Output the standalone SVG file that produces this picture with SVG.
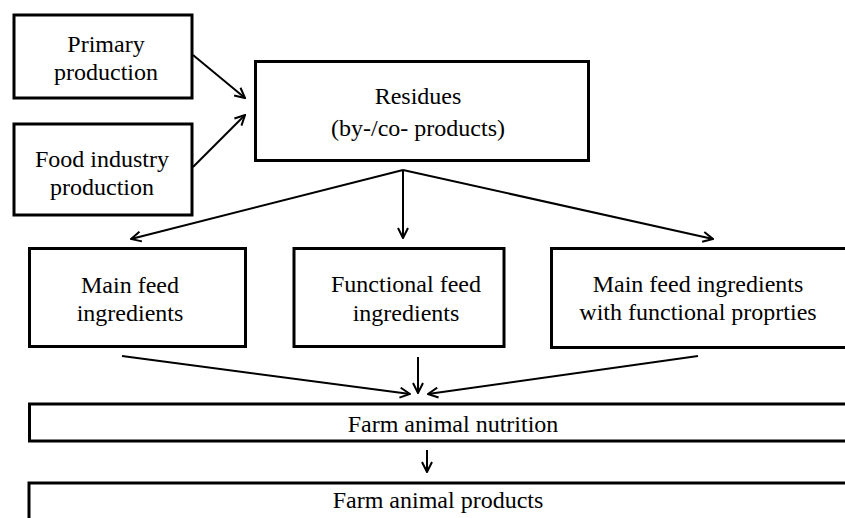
<svg xmlns="http://www.w3.org/2000/svg" width="845" height="518" viewBox="0 0 845 518">
<defs>
<style>
.box{fill:#fff;stroke:#000;stroke-width:3}
.lbl{font-family:"Liberation Serif","Times New Roman",serif;font-size:24px;fill:#000;text-anchor:middle}
.con{stroke:#000;stroke-width:2;fill:none;marker-end:url(#arr)}
</style>
<marker id="arr" markerUnits="userSpaceOnUse" viewBox="0 0 12 12" markerWidth="12" markerHeight="12" refX="11" refY="6" orient="auto">
<path d="M1,1 L11,6 L1,11" fill="none" stroke="#000" stroke-width="2"/>
</marker>
</defs>
<rect width="845" height="518" fill="#fff"/>
<g id="primary">
<rect class="box" x="14" y="15" width="178" height="83"/>
<text class="lbl" x="106" y="52">Primary</text>
<text class="lbl" x="106" y="80">production</text>
</g>
<g id="food">
<rect class="box" x="14" y="124" width="178" height="91"/>
<text class="lbl" x="102" y="167">Food industry</text>
<text class="lbl" x="102" y="195">production</text>
</g>
<g id="residues">
<rect class="box" x="255.5" y="61.5" width="333" height="99"/>
<text class="lbl" x="418" y="104">Residues</text>
<text class="lbl" x="418" y="136">(by-/co- products)</text>
</g>
<g id="mainfeed">
<rect class="box" x="29.5" y="248.5" width="216" height="98"/>
<text class="lbl" x="130" y="293">Main feed</text>
<text class="lbl" x="130" y="321">ingredients</text>
</g>
<g id="functional">
<rect class="box" x="294" y="248.5" width="210" height="98"/>
<text class="lbl" x="406" y="292">Functional feed</text>
<text class="lbl" x="406" y="321">ingredients</text>
</g>
<g id="mainfunctional">
<rect class="box" x="551.5" y="248.5" width="300" height="99"/>
<text class="lbl" x="698" y="292">Main feed ingredients</text>
<text class="lbl" x="698" y="320">with functional proprties</text>
</g>
<g id="nutrition">
<rect class="box" x="29.5" y="404" width="830" height="37"/>
<text class="lbl" x="453" y="432">Farm animal nutrition</text>
</g>
<g id="products">
<rect class="box" x="29" y="483" width="830" height="60"/>
<text class="lbl" x="438" y="508">Farm animal products</text>
</g>
<g id="connectors">
<line class="con" x1="193" y1="55" x2="245" y2="98"/>
<line class="con" x1="193" y1="167" x2="245" y2="115"/>
<line class="con" x1="403" y1="170" x2="403" y2="238"/>
<line class="con" x1="403" y1="170" x2="131" y2="239"/>
<line class="con" x1="403" y1="170" x2="713" y2="239"/>
<line class="con" x1="122" y1="356" x2="410" y2="394"/>
<line class="con" x1="418" y1="357" x2="418" y2="393"/>
<line class="con" x1="698" y1="356" x2="428" y2="394"/>
<line class="con" x1="427" y1="450" x2="427" y2="472"/>
</g>
</svg>
